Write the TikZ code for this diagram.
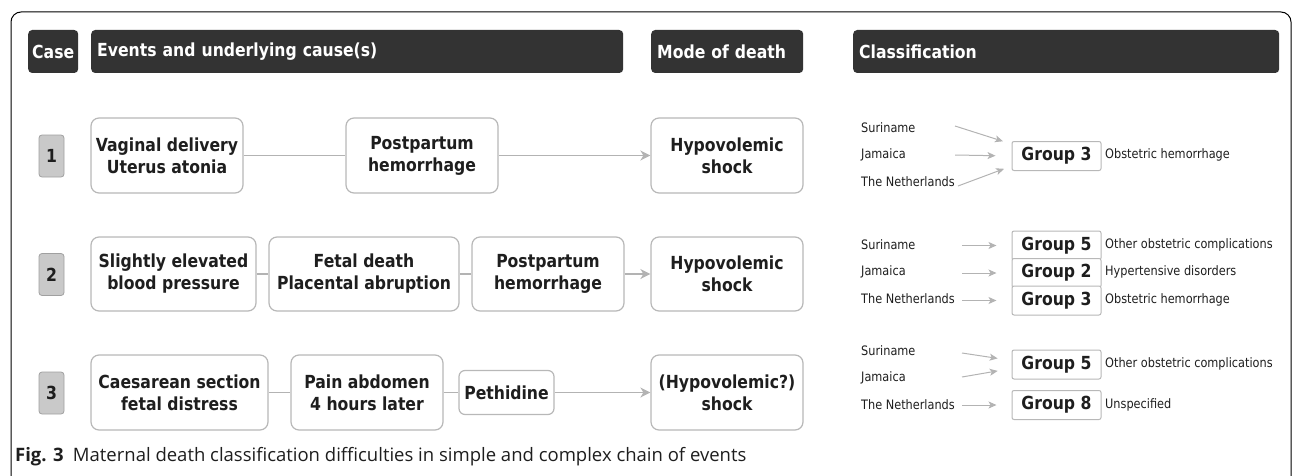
\documentclass[tikz,border=0pt]{standalone}
\usepackage{fontspec}
\setmainfont[FakeStretch=0.87]{DejaVu Sans}
\newfontfamily\capfont{Open Sans}
\usepackage{tikz}
\usetikzlibrary{arrows.meta,positioning}

\definecolor{headgrey}{HTML}{333333}
\definecolor{boxline}{HTML}{B8B8B8}
\definecolor{numfill}{HTML}{C9C9C9}
\definecolor{numline}{HTML}{A0A0A0}
\definecolor{linkgrey}{HTML}{B3B3B3}
\definecolor{txt}{HTML}{1E1E1E}

\begin{document}
\begin{tikzpicture}[x=1pt,y=-1pt,
    header/.style={fill=headgrey,rounded corners=4pt,text=white,anchor=west,
      align=left,minimum height=43pt,inner xsep=6pt,inner ysep=0pt,
      font=\fontsize{18}{18}\selectfont\bfseries},
    casenum/.style={fill=numfill,draw=numline,line width=0.8pt,rounded corners=3pt,
      minimum width=25pt,minimum height=42pt,inner sep=0pt,text=txt,
      font=\fontsize{18}{18}\selectfont\bfseries},
    event/.style={draw=boxline,line width=1.2pt,fill=white,rounded corners=8pt,
      align=center,minimum height=75pt,inner sep=0pt,text=txt,
      font=\fontsize{18}{22}\selectfont\bfseries},
    link/.style={draw=linkgrey,line width=1.6pt},
    flow/.style={link,-{Stealth[length=10pt,width=10pt,inset=3pt]}},
    country/.style={anchor=west,inner sep=0pt,text=txt,font=\fontsize{13}{13}\selectfont},
    pick/.style={draw=linkgrey,line width=1pt,-{Stealth[length=8pt,width=7pt,inset=2pt]}},
    grp/.style={draw=boxline,line width=1pt,fill=white,rounded corners=2pt,
      minimum width=89pt,minimum height=29pt,inner sep=0pt,text=txt,
      font=\fontsize{18}{18}\selectfont\bfseries},
    grplabel/.style={anchor=west,inner sep=0pt,text=txt,font=\fontsize{13}{13}\selectfont}]
  \useasboundingbox (0,0) rectangle (1292,476);
  \draw[line width=1pt,rounded corners=10pt] (11,476) -- (11,12) -- (1291,12) -- (1291,476);

  \node[header,text width=46pt,align=center,inner xsep=2pt] (hcase) at (28,51.5) {Case};
  \node[header,text width=520pt] (hevents) at (91,51.5) {Events and underlying cause(s)};
  \node[header,text width=140pt] (hmode) at (651,51.5) {Mode of death};
  \node[header,text width=414pt] (hclass) at (853,51.5) {Classification};

  \node[casenum] (c1) at (51.5,156) {1};
  \node[casenum] (c2) at (51.5,274.5) {2};
  \node[casenum] (c3) at (51.5,393) {3};

  \node[event,minimum width=152pt] (r1a) at (167,155.5) {Vaginal delivery\\Uterus atonia};
  \node[event,minimum width=152pt] (r1b) at (422,155.5) {Postpartum\\hemorrhage};
  \node[event,minimum width=152pt] (r1m) at (727,155.5) {Hypovolemic\\shock};
  \draw[link] (r1a) -- (r1b);
  \draw[flow] (r1b) -- (r1m);

  \node[event,minimum width=165pt,minimum height=74pt] (r2a) at (173.5,274) {Slightly elevated\\blood pressure};
  \node[event,minimum width=190pt,minimum height=74pt] (r2b) at (364,274) {Fetal death\\Placental abruption};
  \node[event,minimum width=152pt,minimum height=74pt] (r2c) at (548,274) {Postpartum\\hemorrhage};
  \node[event,minimum width=152pt,minimum height=74pt] (r2m) at (727,274) {Hypovolemic\\shock};
  \draw[link] (r2a) -- (r2b);
  \draw[link] (r2b) -- (r2c);
  \draw[flow] (r2c) -- (r2m);

  \node[event,minimum width=177pt] (r3a) at (179.5,392.5) {Caesarean section\\fetal distress};
  \node[event,minimum width=152pt] (r3b) at (367,392.5) {Pain abdomen\\4 hours later};
  \node[event,minimum width=95pt,minimum height=44pt,rounded corners=6pt] (r3c) at (506.5,392.5) {Pethidine};
  \node[event,minimum width=152pt] (r3m) at (727,392.5) {(Hypovolemic?)\\shock};
  \draw[link] (r3a) -- (r3b);
  \draw[link] (r3b) -- (r3c);
  \draw[flow] (r3c) -- (r3m);

  \node[country] (s1) at (861,128) {Suriname};
  \node[country] (j1) at (861,155) {Jamaica};
  \node[country] (n1) at (861,182) {The Netherlands};
  \node[grp] (g1) at (1056.5,156) {Group 3};
  \node[grplabel] (l1) at (1105,155) {Obstetric hemorrhage};
  \coordinate (s1a) at (955,126);
  \coordinate (j1a) at (955,155);
  \coordinate (n1a) at (958,186);
  \draw[pick,shorten >=9pt] (s1a) -- ([yshift=12pt]g1.west);
  \draw[pick,shorten >=16pt] (j1a) -- (g1.west);
  \draw[pick,shorten >=8pt] (n1a) -- ([yshift=-10pt]g1.west);

  \node[country] (s2) at (861,245) {Suriname};
  \node[country] (j2) at (861,272) {Jamaica};
  \node[country] (n2) at (861,299) {The Netherlands};
  \node[grp] (g2a) at (1056.5,245.5) {Group 5};
  \node[grp] (g2b) at (1056.5,273) {Group 2};
  \node[grp] (g2c) at (1056.5,300.5) {Group 3};
  \node[grplabel] (l2a) at (1105,244.5) {Other obstetric complications};
  \node[grplabel] (l2b) at (1105,272) {Hypertensive disorders};
  \node[grplabel] (l2c) at (1105,299.5) {Obstetric hemorrhage};
  \coordinate (s2a) at (962,245.5);
  \coordinate (j2a) at (962,273);
  \coordinate (n2a) at (962,300.5);
  \draw[pick,shorten >=15pt] (s2a) -- (g2a.west);
  \draw[pick,shorten >=15pt] (j2a) -- (g2b.west);
  \draw[pick,shorten >=15pt] (n2a) -- (g2c.west);

  \node[country] (s3) at (861,351) {Suriname};
  \node[country] (j3) at (861,378) {Jamaica};
  \node[country] (n3) at (861,405) {The Netherlands};
  \node[grp] (g3a) at (1056.5,364.5) {Group 5};
  \node[grp] (g3b) at (1056.5,405) {Group 8};
  \node[grplabel] (l3a) at (1105,364) {Other obstetric complications};
  \node[grplabel] (l3b) at (1105,404.5) {Unspecified};
  \coordinate (s3a) at (962,353);
  \coordinate (j3a) at (962,377);
  \coordinate (n3a) at (962,405);
  \draw[pick,shorten >=14pt] (s3a) -- ([yshift=4pt]g3a.west);
  \draw[pick,shorten >=14pt] (j3a) -- ([yshift=-4pt]g3a.west);
  \draw[pick,shorten >=15pt] (n3a) -- (g3b.west);

  \node[anchor=west,inner sep=0pt,text=txt,font=\capfont\fontsize{18.5}{18.5}\selectfont] (cap) at (15,457)
    {\textbf{Fig. 3}\hspace{0.5em}Maternal death classification difficulties in simple and complex chain of events};
\end{tikzpicture}
\end{document}
